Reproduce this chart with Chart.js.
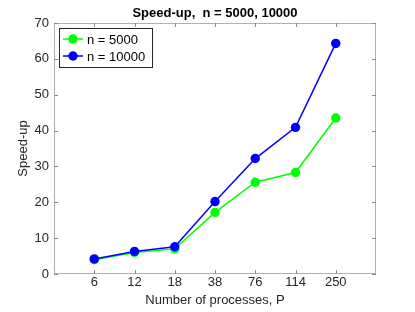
<!DOCTYPE html>
<html>
<head>
<meta charset="utf-8">
<script src="https://cdn.jsdelivr.net/npm/chart.js@4/dist/chart.umd.min.js"></script>
<style>
  html, body { margin: 0; padding: 0; background: #fff; }
  #wrap { width: 415px; height: 312px; }
</style>
</head>
<body>
<div id="wrap"><canvas id="speedup"></canvas></div>
<script>
var procLabels = ['6', '12', '18', '38', '76', '114', '250'];
var speedup5000 = [4.0, 6.0, 7.0, 17.2, 25.6, 28.3, 43.5];
var speedup10000 = [4.2, 6.3, 7.6, 20.2, 32.2, 40.9, 64.3];
var yTicks = [0, 10, 20, 30, 40, 50, 60, 70];

var FONT = 'Liberation Sans, Arial, Helvetica, sans-serif';
var AXIS_COLOR = '#262626';

function toPoints(vals) {
  return vals.map(function (v, i) { return { x: i + 1, y: v }; });
}

// frame, inward ticks, title and legend in the matlab look
var matlabAxes = {
  id: 'matlabAxes',
  afterDatasetsDraw: function (chart) {
    var c = chart.ctx, a = chart.chartArea;
    var xs = chart.scales.x, ys = chart.scales.y;
    c.save();
    c.strokeStyle = '#b0b0b0';
    c.lineWidth = 1;
    c.strokeRect(a.left + 0.5, a.top + 0.5, a.right - a.left - 1, a.bottom - a.top - 1);
    c.strokeStyle = '#8a8a8a';
    c.beginPath();
    for (var i = 1; i <= procLabels.length; i++) {
      var px = Math.round(xs.getPixelForValue(i)) + 0.5;
      c.moveTo(px, a.bottom); c.lineTo(px, a.bottom - 4);
      c.moveTo(px, a.top); c.lineTo(px, a.top + 4);
    }
    yTicks.forEach(function (t) {
      var py = Math.round(ys.getPixelForValue(t)) + 0.5;
      c.moveTo(a.left, py); c.lineTo(a.left + 4, py);
      c.moveTo(a.right, py); c.lineTo(a.right - 4, py);
    });
    c.stroke();

    // title
    c.fillStyle = '#000';
    c.font = 'bold 13px ' + FONT;
    c.textAlign = 'center';
    c.textBaseline = 'middle';
    c.fillText('Speed-up,  n = 5000, 10000', (a.left + a.right) / 2, 13);

    // legend box
    var lx = 59, ly = 28, lw = 93, lh = 39;
    c.fillStyle = '#fff';
    c.fillRect(lx, ly, lw, lh);
    c.strokeStyle = '#262626';
    c.strokeRect(lx + 0.5, ly + 0.5, lw, lh);
    c.font = '13px ' + FONT;
    c.textAlign = 'left';
    chart.data.datasets.forEach(function (ds, k) {
      var yy = ly + 11 + k * 17;
      c.strokeStyle = ds.borderColor;
      c.lineWidth = 1.5;
      c.beginPath();
      c.moveTo(lx + 4, yy); c.lineTo(lx + 24, yy);
      c.stroke();
      c.fillStyle = ds.borderColor;
      c.beginPath();
      c.arc(lx + 14, yy, 4.7, 0, Math.PI * 2);
      c.fill();
      c.fillStyle = '#000';
      c.fillText(ds.label, lx + 28, yy + 1);
    });
    c.restore();
  }
};

var ctx = document.getElementById('speedup').getContext('2d');
var chart = new Chart(ctx, {
  type: 'line',
  data: {
    datasets: [{
      label: 'n = 5000',
      data: toPoints(speedup5000),
      borderColor: '#00ff00',
      backgroundColor: '#00ff00',
      borderWidth: 1.5,
      pointRadius: 4.7,
      pointBorderWidth: 0,
      order: 1
    }, {
      label: 'n = 10000',
      data: toPoints(speedup10000),
      borderColor: '#0000ff',
      backgroundColor: '#0000ff',
      borderWidth: 1.5,
      pointRadius: 4.7,
      pointBorderWidth: 0,
      order: 0
    }]
  },
  options: {
    responsive: true,
    maintainAspectRatio: false,
    animation: false,
    layout: { padding: { top: 23, right: 39, left: 0, bottom: 0 } },
    plugins: {
      legend: { display: false },
      tooltip: { enabled: false },
      title: { display: false }
    },
    scales: {
      x: {
        type: 'linear',
        min: 0,
        max: 8,
        afterFit: function (s) { s.height = 38; },
        afterBuildTicks: function (s) {
          s.ticks = procLabels.map(function (l, i) { return { value: i + 1 }; });
        },
        ticks: {
          callback: function (v) { return procLabels[v - 1]; },
          color: AXIS_COLOR,
          font: { family: FONT, size: 13 },
          padding: 1,
          maxRotation: 0,
          autoSkip: false
        },
        grid: { display: false, drawTicks: false },
        border: { display: false },
        title: {
          display: true,
          text: 'Number of processes, P',
          color: AXIS_COLOR,
          font: { family: FONT, size: 13 },
          padding: { top: 0, bottom: 4 }
        }
      },
      y: {
        min: 0,
        max: 70,
        afterFit: function (s) { s.width = 54; },
        afterBuildTicks: function (s) {
          s.ticks = yTicks.map(function (t) { return { value: t }; });
        },
        ticks: {
          color: AXIS_COLOR,
          font: { family: FONT, size: 13 },
          padding: 5
        },
        grid: { display: false, drawTicks: false },
        border: { display: false },
        title: {
          display: true,
          text: 'Speed-up',
          color: AXIS_COLOR,
          font: { family: FONT, size: 13 },
          padding: { top: 16, bottom: 0 }
        }
      }
    }
  },
  plugins: [matlabAxes]
});
</script>
</body>
</html>
